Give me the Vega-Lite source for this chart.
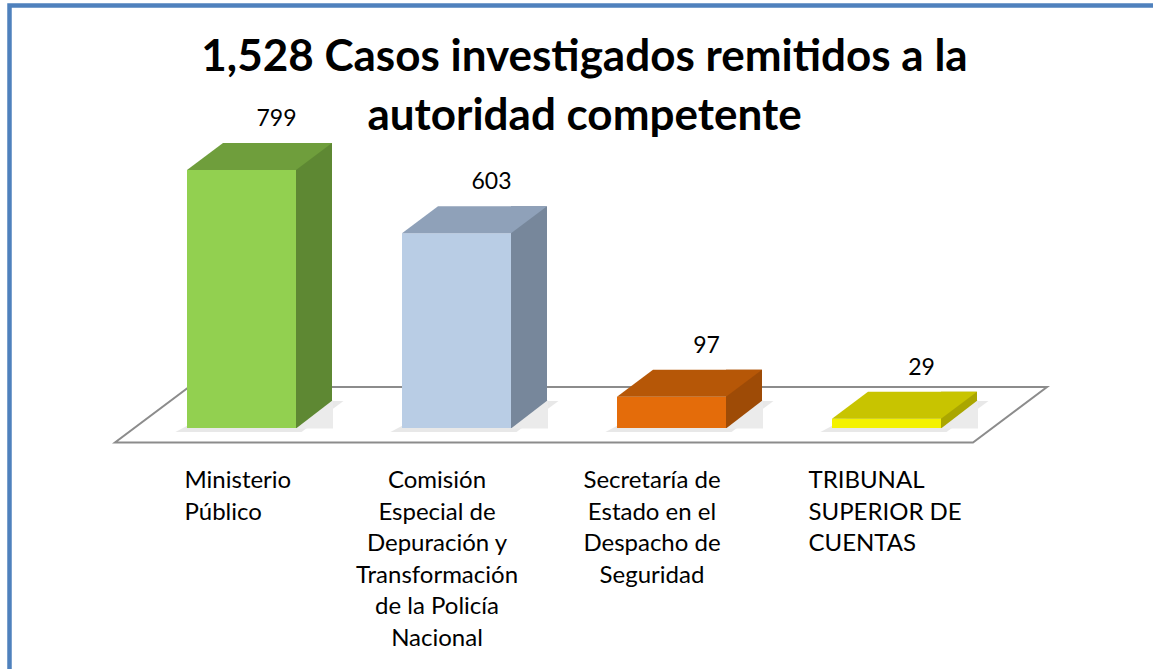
{
  "$schema": "https://vega.github.io/schema/vega-lite/v6.json",
  "width": 1150,
  "height": 680,
  "autosize": {"type": "none"},
  "padding": {"left": 9.5, "top": 5.5, "right": 0, "bottom": 0},
  "background": "white",
  "config": {
    "view": {"stroke": "#4f81bd", "strokeWidth": 4.5},
    "font": "Lato",
    "axisX": {
      "orient": "bottom",
      "title": null,
      "domain": false,
      "ticks": false,
      "grid": false,
      "labelAngle": 0,
      "labelFont": "Lato",
      "labelFontSize": 24,
      "labelColor": "#000000",
      "labelLineHeight": 31.6,
      "labelPadding": 8,
      "labelLimit": 0,
      "labelOverlap": false,
      "offset": -225
    }
  },
  "title": {
    "text": ["1,528 Casos investigados remitidos a la", "autoridad competente"],
    "font": "Lato",
    "fontSize": 44,
    "fontWeight": "bold",
    "color": "#000000",
    "lineHeight": 59,
    "anchor": "middle",
    "offset": -133
  },
  "data": {
    "values": [
      {"categoria": "Ministerio Público", "casos": 799},
      {"categoria": "Comisión Especial de Depuración y Transformación de la Policía Nacional", "casos": 603},
      {"categoria": "Secretaría de Estado en el Despacho de Seguridad", "casos": 97},
      {"categoria": "TRIBUNAL SUPERIOR DE CUENTAS", "casos": 29}
    ]
  },
  "encoding": {
    "x": {
      "field": "categoria",
      "type": "nominal",
      "sort": null,
      "scale": {
        "domain": [
          "Ministerio Público",
          "Comisión Especial de Depuración y Transformación de la Policía Nacional",
          "Secretaría de Estado en el Despacho de Seguridad",
          "TRIBUNAL SUPERIOR DE CUENTAS"
        ],
        "range": [124.5, 984.5],
        "paddingInner": 0,
        "paddingOuter": 0
      },
      "axis": null
    },
    "y": {
      "field": "casos",
      "type": "quantitative",
      "scale": {"domain": [0, 799], "range": [422.5, 164.5], "nice": false, "zero": true},
      "axis": null
    }
  },
  "layer": [
    {
      "transform": [{"filter": {"field": "categoria", "equal": "Ministerio Público"}}],
      "mark": {
        "type": "point",
        "shape": "M-126.5,14.5L731.5,14.5L805.5,-41L-52.5,-41Z",
        "size": 4,
        "filled": false,
        "fill": "#ffffff",
        "fillOpacity": 1,
        "stroke": "#8c8c8c",
        "strokeWidth": 2,
        "opacity": 1
      },
      "encoding": {
        "y": {"datum": 0, "type": "quantitative", "axis": null}
      }
    },
    {
      "mark": {
        "type": "point",
        "shape": "M-66,4L60,4L102,-27L-8,-27Z",
        "size": 4,
        "filled": true,
        "fill": "#8a8a8a",
        "opacity": 0.2,
        "strokeWidth": 0
      },
      "encoding": {
        "y": {"datum": 0, "type": "quantitative", "axis": null}
      }
    },
    {
      "mark": {"type": "bar", "width": 109},
      "encoding": {
        "x": {
          "field": "categoria",
          "type": "nominal",
          "axis": {
            "orient": "bottom",
            "labelExpr": "datum.value == 'Ministerio Público' ? ['Ministerio', 'Público'] : ''",
            "labelAlign": "left",
            "labelOffset": -57
          }
        },
        "y2": {"datum": 0},
        "color": {
          "field": "categoria",
          "type": "nominal",
          "legend": null,
          "scale": {
            "domain": [
              "Ministerio Público",
              "Comisión Especial de Depuración y Transformación de la Policía Nacional",
              "Secretaría de Estado en el Despacho de Seguridad",
              "TRIBUNAL SUPERIOR DE CUENTAS"
            ],
            "range": ["#92d050", "#b9cde5", "#e46c0a", "#f4f200"]
          }
        }
      }
    },
    {
      "mark": {"type": "bar", "width": 36, "xOffset": 72.5, "yOffset": -27, "y2Offset": 0},
      "encoding": {
        "x": {
          "field": "categoria",
          "type": "nominal",
          "axis": {
            "orient": "bottom",
            "labelExpr": "datum.value == 'TRIBUNAL SUPERIOR DE CUENTAS' ? ['TRIBUNAL', 'SUPERIOR DE', 'CUENTAS'] : ''",
            "labelAlign": "left",
            "labelOffset": -78
          }
        },
        "y2": {"datum": 0},
        "color": {
          "field": "categoria",
          "type": "nominal",
          "legend": null,
          "scale": {
            "domain": [
              "Ministerio Público",
              "Comisión Especial de Depuración y Transformación de la Policía Nacional",
              "Secretaría de Estado en el Despacho de Seguridad",
              "TRIBUNAL SUPERIOR DE CUENTAS"
            ],
            "range": ["#5e8833", "#77879b", "#9e4b06", "#aaa600"]
          }
        }
      }
    },
    {
      "mark": {
        "type": "point",
        "shape": "M-54.5,0L54.5,0L90.5,-27L-18.5,-27Z",
        "size": 4,
        "filled": true,
        "opacity": 1,
        "strokeWidth": 0
      },
      "encoding": {
        "x": {
          "field": "categoria",
          "type": "nominal",
          "axis": {
            "orient": "bottom",
            "labelExpr": "datum.value == 'Comisión Especial de Depuración y Transformación de la Policía Nacional' ? ['Comisión', 'Especial de', 'Depuración y', 'Transformación', 'de la Policía', 'Nacional'] : datum.value == 'Secretaría de Estado en el Despacho de Seguridad' ? ['Secretaría de', 'Estado en el', 'Despacho de', 'Seguridad'] : ''",
            "labelAlign": "center",
            "labelOffset": -19.5
          }
        },
        "color": {
          "field": "categoria",
          "type": "nominal",
          "legend": null,
          "scale": {
            "domain": [
              "Ministerio Público",
              "Comisión Especial de Depuración y Transformación de la Policía Nacional",
              "Secretaría de Estado en el Despacho de Seguridad",
              "TRIBUNAL SUPERIOR DE CUENTAS"
            ],
            "range": ["#6f9e3c", "#8fa1b9", "#b65707", "#c8c400"]
          }
        }
      }
    },
    {
      "mark": {
        "type": "point",
        "shape": "M54.5,0.5L91.5,0.5L91.5,-28Z",
        "size": 4,
        "filled": true,
        "fill": "#ebebeb",
        "opacity": 1,
        "strokeWidth": 0
      },
      "encoding": {
        "y": {"datum": 0, "type": "quantitative", "axis": null}
      }
    },
    {
      "mark": {
        "type": "text",
        "font": "Lato",
        "fontSize": 23,
        "color": "#000000",
        "align": "center",
        "baseline": "middle",
        "dx": 35,
        "dy": -51
      },
      "encoding": {
        "text": {"field": "casos", "type": "quantitative"}
      }
    }
  ],
  "resolve": {"scale": {"color": "independent"}, "axis": {"x": "independent"}}
}
